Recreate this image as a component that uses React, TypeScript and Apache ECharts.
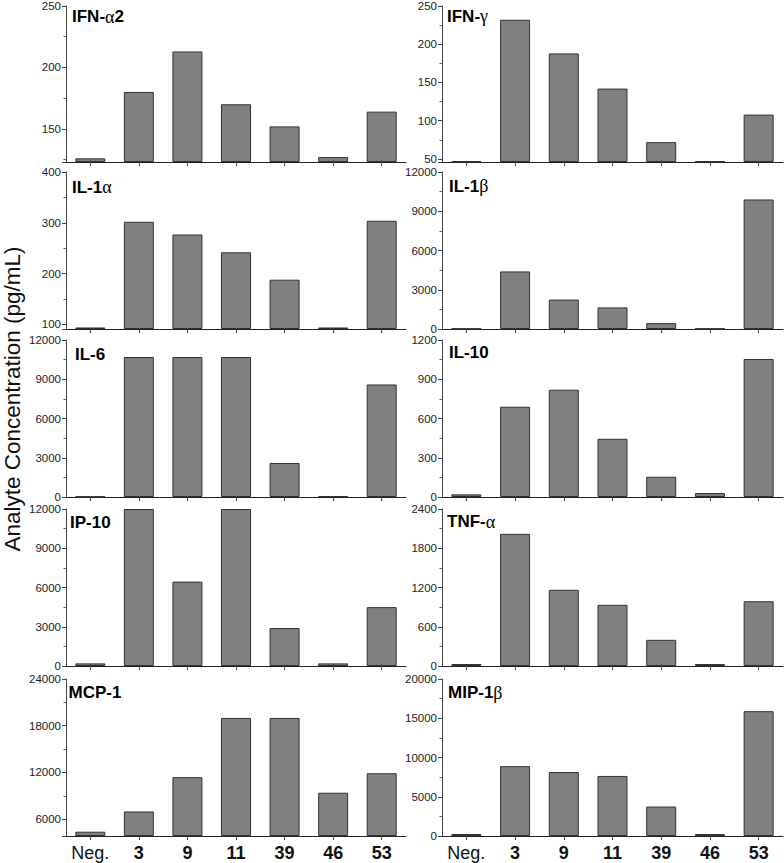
import React, { useEffect, useRef } from "react";
import * as echarts from "echarts";

const categories = ["Neg.", "3", "9", "11", "39", "46", "53"];

const panelNames = [
  "IFN-α2", "IFN-γ",
  "IL-1α", "IL-1β",
  "IL-6", "IL-10",
  "IP-10", "TNF-α",
  "MCP-1", "MIP-1β",
];

const ifnA2 = [126, 180, 213, 170, 152, 127, 164];
const ifnG = [47, 232, 188, 142, 72, 47, 108];
const il1a = [94, 302, 277, 242, 188, 94, 304];
const il1b = [30, 4400, 2250, 1650, 450, 30, 9900];
const il6 = [40, 10700, 10700, 10700, 2600, 60, 8600];
const il10 = [20, 690, 820, 445, 155, 30, 1055];
const ip10 = [200, 12000, 6450, 12000, 2900, 200, 4500];
const tnfA = [30, 2020, 1165, 935, 400, 30, 990];
const mcp1 = [4400, 7000, 11400, 19000, 19000, 9400, 11900];
const mip1b = [250, 8900, 8150, 7650, 3750, 250, 15900];

const panelValues = [ifnA2, ifnG, il1a, il1b, il6, il10, ip10, tnfA, mcp1, mip1b];

// y-axis ranges and tick steps
const yMin = [123, 46, 91, 0, 0, 0, 0, 0, 3850, 0];
const yMax = [250, 250, 400, 12000, 12000, 1200, 12000, 2400, 24000, 20000];
const yStep = [50, 50, 100, 3000, 3000, 300, 3000, 600, 6000, 5000];

const yTitle = "Analyte Concentration (pg/mL)";

// layout
const colLeft = [66, 442];
const colWidth = [340, 341];
const rowTop = [5, 172, 340, 509, 679];
const rowHeight = 157;
const titlePos = [
  [72, 16.5], [447, 16],
  [72, 187], [449, 186],
  [75, 354], [449, 352],
  [70, 522.5], [447, 521.5],
  [68.5, 692.5], [448, 692.5],
];

const FONT = "'Liberation Sans', Arial, Helvetica, sans-serif";

function richTitle(s: string) {
  let out = "";
  let buf = "";
  for (const ch of s) {
    if ("αβγ".includes(ch)) {
      if (buf) out += `{b|${buf}}`;
      buf = "";
      out += `{g|${ch}}`;
    } else buf += ch;
  }
  if (buf) out += `{b|${buf}}`;
  return out;
}

export default function App() {
  const ref = useRef<HTMLDivElement>(null);

  useEffect(() => {
    document.body.style.margin = "0";
    if (!ref.current) return;
    const chart = echarts.init(ref.current, undefined, { renderer: "svg" });

    const grids: any[] = [];
    const xAxes: any[] = [];
    const yAxes: any[] = [];
    const series: any[] = [];
    const graphics: any[] = [];

    panelValues.forEach((vals, i) => {
      const col = i % 2;
      const row = Math.floor(i / 2);
      const isBottom = row === 4;
      grids.push({
        left: colLeft[col],
        top: rowTop[row],
        width: colWidth[col],
        height: rowHeight,
        containLabel: false,
      });
      xAxes.push({
        type: "category",
        gridIndex: i,
        data: categories,
        boundaryGap: true,
        axisLine: { show: true, lineStyle: { color: "#222", width: 1 } },
        axisTick: {
          show: true,
          alignWithLabel: true,
          inside: false,
          length: 4,
          lineStyle: { color: "#444" },
        },
        axisLabel: {
          show: isBottom,
          margin: 8,
          interval: 0,
          formatter: (v: string) => (v === "Neg." ? `{n|${v}}` : `{b|${v}}`),
          rich: {
            n: { fontSize: 18, fontWeight: "normal", color: "#111", fontFamily: FONT },
            b: { fontSize: 18, fontWeight: "bold", color: "#111", fontFamily: FONT },
          },
        },
        splitLine: { show: false },
      });
      yAxes.push({
        type: "value",
        gridIndex: i,
        min: yMin[i],
        max: yMax[i],
        startValue: yMin[i],
        minInterval: yStep[i],
        maxInterval: yStep[i],
        splitNumber: 4,
        axisLine: { show: true, lineStyle: { color: "#444", width: 1 } },
        axisTick: { show: true, inside: false, length: 4, lineStyle: { color: "#444" } },
        minorTick: { show: true, splitNumber: 2, length: 2.5, lineStyle: { color: "#666" } },
        axisLabel: {
          show: true,
          showMinLabel: yMin[i] % yStep[i] === 0,
          margin: 5,
          fontSize: 11.5,
          color: "#222",
          fontFamily: FONT,
          formatter: (v: number) => String(v),
        },
        splitLine: { show: false },
        minorSplitLine: { show: false },
      });
      series.push({
        type: "bar",
        name: panelNames[i],
        xAxisIndex: i,
        yAxisIndex: i,
        data: vals,
        barWidth: 30,
        clip: true,
        itemStyle: { color: "#808080", borderColor: "#333", borderWidth: 1 },
        emphasis: { disabled: true },
      });
      graphics.push({
        type: "text",
        x: titlePos[i][0],
        y: titlePos[i][1],
        style: {
          text: richTitle(panelNames[i]),
          verticalAlign: "middle",
          align: "left",
          rich: {
            b: { fontSize: 17, fontWeight: "bold", color: "#000", fontFamily: FONT },
            g: {
              fontSize: 18,
              fontWeight: "normal",
              color: "#000",
              fontFamily: "'Liberation Serif', 'DejaVu Serif', serif",
            },
          },
        },
      });
    });

    graphics.push({
      type: "text",
      x: 12,
      y: 399,
      rotation: Math.PI / 2,
      style: {
        text: yTitle,
        fontSize: 22.5,
        fontFamily: FONT,
        fill: "#111",
        align: "center",
        verticalAlign: "middle",
      },
    });

    chart.setOption({
      animation: false,
      backgroundColor: "#fff",
      grid: grids,
      xAxis: xAxes,
      yAxis: yAxes,
      series,
      graphic: graphics,
      tooltip: { show: false },
    });

    return () => chart.dispose();
  }, []);

  return <div ref={ref} style={{ width: 784, height: 863 }} />;
}
